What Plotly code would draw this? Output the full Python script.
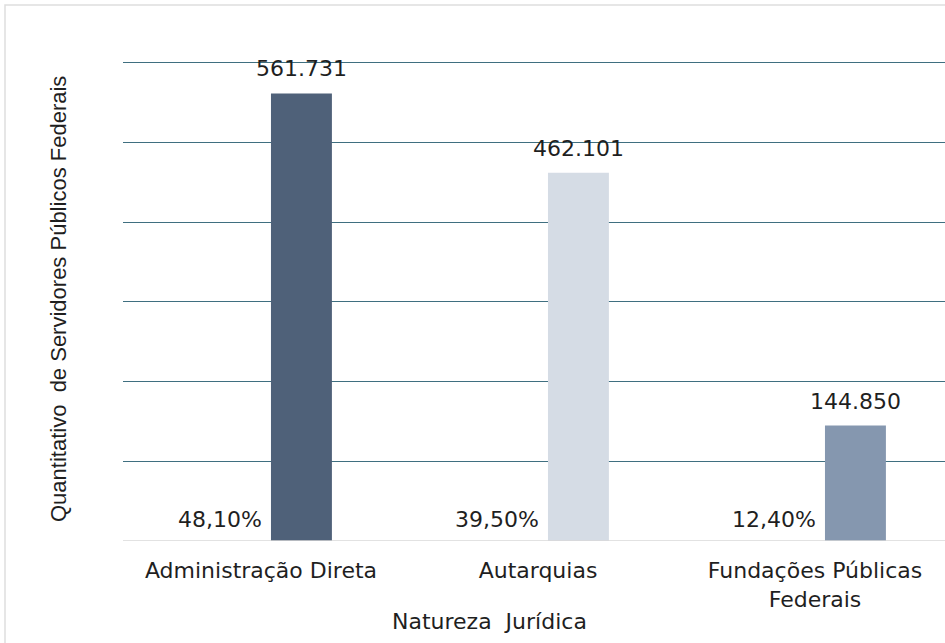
import plotly.graph_objects as go

categories = ["Administração Direta", "Autarquias", "Fundações Públicas<br>Federais"]
servidores = [561731, 462101, 144850]
servidores_labels = ["561.731", "462.101", "144.850"]
percent_labels = ["48,10%", "39,50%", "12,40%"]
bar_colors = ["#4f6179", "#d5dce5", "#8597af"]

FONT = "DejaVu Sans, Verdana, sans-serif"
FONT_Y = "Liberation Sans, Arial, sans-serif"
TXT = "#1f1f1f"
x_idx = list(range(len(categories)))

BAR_OFF = 0.036
BAR_W = 0.220

fig = go.Figure()
fig.add_trace(go.Bar(
    x=x_idx, y=servidores, width=BAR_W, offset=BAR_OFF,
    marker=dict(color=bar_colors, line=dict(width=0)),
    showlegend=False, hoverinfo="skip",
))

annotations = []
for i, v in enumerate(servidores):
    annotations.append(dict(x=i + BAR_OFF + BAR_W / 2, y=v, text=servidores_labels[i], xref="x", yref="y",
                            showarrow=False, yanchor="bottom", yshift=10,
                            font=dict(family=FONT, size=22, color=TXT)))
    annotations.append(dict(x=i + BAR_OFF, y=0, text=percent_labels[i], xref="x", yref="y",
                            showarrow=False, xanchor="right", yanchor="bottom", xshift=-7, yshift=7,
                            font=dict(family=FONT, size=22, color=TXT)))

# axis titles
annotations.append(dict(x=(489 - 123) / 822, y=(541 - 621) / 490, xref="paper", yref="paper",
                        text="Natureza&nbsp; Jurídica", showarrow=False, xanchor="center", yanchor="middle",
                        font=dict(family=FONT, size=22, color=TXT)))
annotations.append(dict(x=(58 - 123) / 822, y=(541 - 299) / 490, xref="paper", yref="paper",
                        text="Quantitativo&nbsp; de Servidores Públicos Federais", showarrow=False,
                        textangle=-90, xanchor="center", yanchor="middle",
                        font=dict(family=FONT_Y, size=22, color=TXT)))

fig.update_layout(
    width=945, height=643,
    margin=dict(l=123, r=0, t=51, b=102, autoexpand=False),
    paper_bgcolor="white", plot_bgcolor="white",
    font=dict(family=FONT, size=22, color=TXT),
    annotations=annotations,
    xaxis=dict(
        range=[(123 - 261) / 277, (945 - 261) / 277], tickmode="array", tickvals=x_idx,
        ticktext=categories, showgrid=False, zeroline=False, showline=False,
        ticks="", automargin=False, ticklabelstandoff=14,
        tickfont=dict(family=FONT, size=22, color=TXT),
    ),
    yaxis=dict(
        range=[0, 615000], tickmode="array", tickvals=[0, 100000, 200000, 300000, 400000, 500000, 600000],
        showticklabels=False, showgrid=True, automargin=False,
        gridcolor="#3f6f80", gridwidth=1, zeroline=False, showline=False, ticks="",
    ),
    shapes=[
        dict(type="line", xref="paper", yref="y", x0=0, x1=1, y0=0, y1=0,
             line=dict(color="#d9d9d9", width=1.5)),
        dict(type="rect", xref="paper", yref="paper", x0=(5 - 123) / 822, x1=1.2,
             y0=-0.25, y1=(541 - 5) / 490,
             line=dict(color="#dedede", width=1.5), fillcolor="rgba(0,0,0,0)", layer="below"),
    ],
)

fig.write_html("out.html", config={"displayModeBar": False},
               post_script="document.body.style.margin='0';document.body.style.overflow='hidden';")
